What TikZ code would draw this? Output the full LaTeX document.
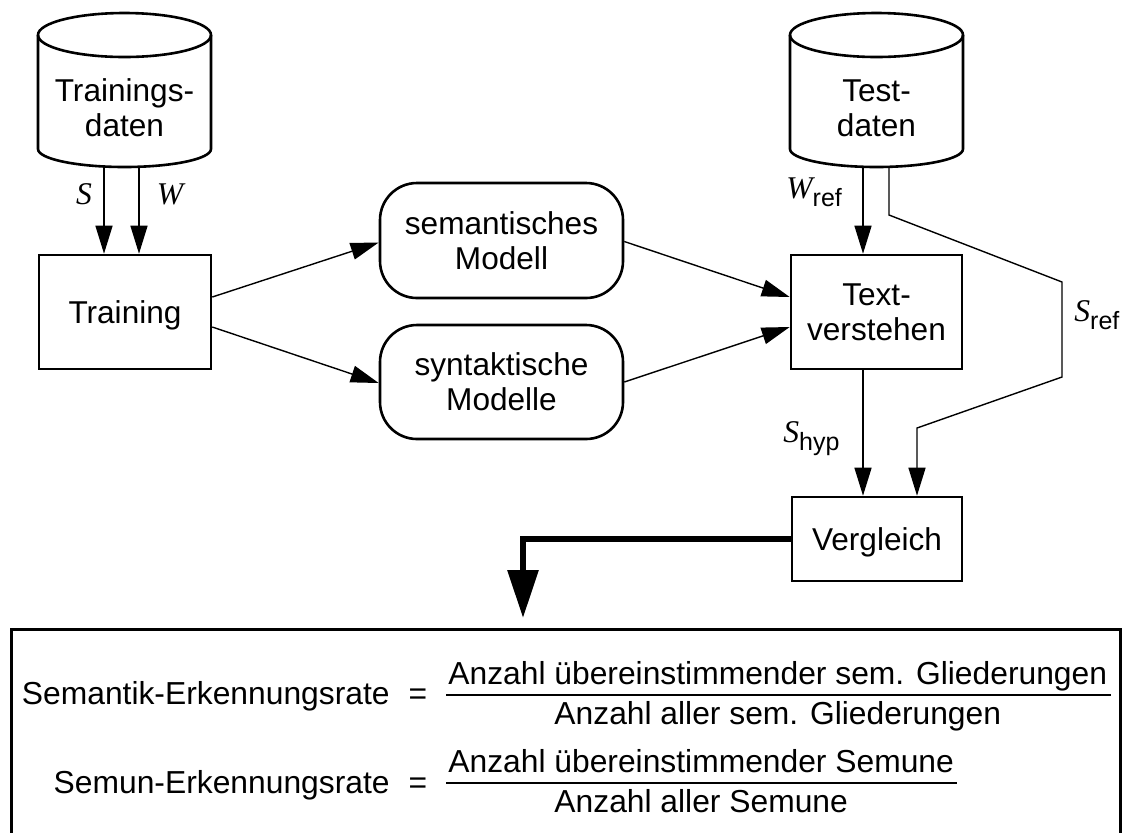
\documentclass[tikz,border=0pt]{standalone}
\usepackage{fontspec}
\setmainfont{Liberation Sans}
\newfontfamily\tnrfont{Liberation Serif}
\usetikzlibrary{arrows.meta,calc}
\newcommand{\mvar}[1]{{\tnrfont\itshape #1}}
\newcommand{\msub}[1]{\raisebox{-4pt}{\fontsize{12.5}{14}\selectfont #1}}
\tikzset{
  every node/.style={font=\fontsize{15.8}{17.5}\selectfont},
  box/.style={draw, line width=1.3pt, align=center, inner sep=0pt},
  rbox/.style={box, rounded corners=18.5pt},
  shapeline/.style={line width=1.3pt},
  conn/.style={line width=0.7pt, -{Triangle[length=14pt,width=8.5pt]}},
  bigconn/.style={line width=3pt, line join=miter, -{Triangle[length=24pt,width=15pt]}},
  lbl/.style={inner sep=0pt, anchor=base},
  flbl/.style={lbl, font=\fontsize{15.9}{18}\selectfont},
  fracline/.style={line width=1pt},
}
\begin{document}
\begin{tikzpicture}[x=0.5pt,y=-0.5pt]
\useasboundingbox (0,0) rectangle (1128,832);

% cylinders
\draw[shapeline] (38,35) -- (38,149) arc[start angle=180,end angle=360,x radius=43.25pt,y radius=9pt] -- (211,35);
\draw[shapeline] (124.5,35) ellipse [x radius=43.25pt, y radius=11pt];
\node[align=center, inner sep=0pt] (trdata) at (124.5,108) {Trainings-\\daten};
\coordinate (trbot) at (124.5,167);

\draw[shapeline] (790,35) -- (790,149) arc[start angle=180,end angle=360,x radius=43.25pt,y radius=9pt] -- (963,35);
\draw[shapeline] (876.5,35) ellipse [x radius=43.25pt, y radius=11pt];
\node[align=center, inner sep=0pt] (tsdata) at (876.5,108) {Test-\\daten};
\coordinate (tsbot) at (876.5,167);

% boxes
\node[box, minimum width=86pt, minimum height=57pt, text depth=0pt] (trn) at (125,312) {Training};
\node[rbox, minimum width=121.5pt, minimum height=57.5pt] (sem) at (501.5,240.5) {semantisches\\Modell};
\node[rbox, minimum width=121.5pt, minimum height=57pt] (syn) at (501.5,382) {syntaktische\\Modelle};
\node[box, minimum width=85.5pt, minimum height=57pt] (txt) at (876.5,312) {Text-\\verstehen};
\node[box, minimum width=85pt, minimum height=42pt, text depth=0pt] (vgl) at (877,539) {Vergleich};

% connectors
\draw[conn] ([xshift=-10.25pt]trbot) -- ([xshift=-10.25pt]trbot |- trn.north);
\draw[conn] ([xshift=7.25pt]trbot) -- ([xshift=7.25pt]trbot |- trn.north);
\node[lbl] (lS) at (84,204) {\mvar{S}};
\node[lbl] (lW) at (170,204) {\mvar{W}};

\draw[conn] ([yshift=7.5pt]trn.east) -- ([yshift=-1pt]sem.west);
\draw[conn] ([yshift=-7.5pt]trn.east) -- ([yshift=-0.5pt]syn.west);
\draw[conn] ([yshift=-0.5pt]sem.east) -- ([yshift=7.5pt]txt.west);
\draw[conn] (syn.east) -- ([yshift=-7.5pt]txt.west);

\draw[conn] ([xshift=-6.75pt]tsbot) -- ([xshift=-6.75pt]tsbot |- txt.north);
\node[lbl, anchor=base west] (lWref) at (786,198) {\mvar{W}\msub{ref}};

\draw[conn] ([xshift=6.25pt]tsbot) -- ++(0,48) -- (1062,282) -- (1062,377) -- (917,428) -- (917,0 |- vgl.north);
\node[lbl, anchor=base west] (lSref) at (1074,321) {\mvar{S}\msub{ref}};

\draw[conn] ([xshift=-6.75pt]txt.south) -- ([xshift=-6.75pt]txt.south |- vgl.north);
\node[lbl, anchor=base west] (lShyp) at (783,442) {\mvar{S}\msub{hyp}};

% result box
\node[draw, line width=1.3pt, inner sep=0pt, minimum width=554.5pt, minimum height=104pt, anchor=north west] (res) at (10,628) {};
\coordinate (tip) at (523,618);
\draw[bigconn] (vgl.west) -| (tip);

% formulas
\node[flbl, anchor=base east] (l1) at (390,704) {Semantik-Erkennungsrate};
\node[flbl] (eq1) at (418,704) {=};
\node[flbl, anchor=base west] (n1) at (448,684) {Anzahl übereinstimmender sem. Gliederungen};
\node[flbl] (d1) at ([yshift=-20pt]n1.base) {Anzahl aller sem. Gliederungen};
\draw[fracline] ([xshift=-1pt,yshift=-5.5pt]n1.base west) -- ([xshift=1.5pt,yshift=-5.5pt]n1.base east);

\node[flbl, anchor=base east] (l2) at (390,793) {Semun-Erkennungsrate};
\node[flbl] (eq2) at (418,793) {=};
\node[flbl, anchor=base west] (n2) at (448,772) {Anzahl übereinstimmender Semune};
\node[flbl] (d2) at ([yshift=-20pt]n2.base) {Anzahl aller Semune};
\draw[fracline] ([xshift=-1pt,yshift=-5.5pt]n2.base west) -- ([xshift=1.5pt,yshift=-5.5pt]n2.base east);
\end{tikzpicture}
\end{document}
